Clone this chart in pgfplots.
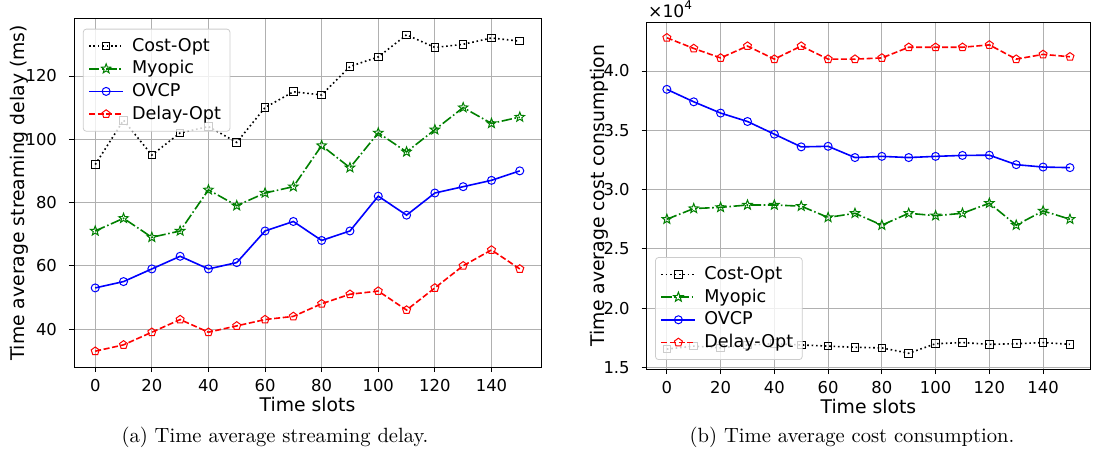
\documentclass[border=0pt]{standalone}
\usepackage{pgfplots}
\pgfplotsset{compat=1.18}
\usepackage{fontspec}
\usetikzlibrary{plotmarks}
\newfontfamily\djv{DejaVu Sans}

\definecolor{mplgreen}{rgb}{0,0.5,0}
\definecolor{gridgray}{RGB}{176,176,176}

% hollow five-point star, like matplotlib's '*'
\pgfdeclareplotmark{ostar}{%
  \pgfpathmoveto{\pgfpointpolar{90}{\pgfplotmarksize}}%
  \pgfpathlineto{\pgfpointpolar{126}{0.42\pgfplotmarksize}}%
  \pgfpathlineto{\pgfpointpolar{162}{\pgfplotmarksize}}%
  \pgfpathlineto{\pgfpointpolar{198}{0.42\pgfplotmarksize}}%
  \pgfpathlineto{\pgfpointpolar{234}{\pgfplotmarksize}}%
  \pgfpathlineto{\pgfpointpolar{270}{0.42\pgfplotmarksize}}%
  \pgfpathlineto{\pgfpointpolar{306}{\pgfplotmarksize}}%
  \pgfpathlineto{\pgfpointpolar{342}{0.42\pgfplotmarksize}}%
  \pgfpathlineto{\pgfpointpolar{18}{\pgfplotmarksize}}%
  \pgfpathlineto{\pgfpointpolar{54}{0.42\pgfplotmarksize}}%
  \pgfpathclose
  \pgfusepathqstroke
}

\pgfplotsset{
  mplstyle/.style={
    scale only axis,
    anchor=south west,
    xmin=-7.5, xmax=157.5,
    xtick={0,20,...,140},
    grid=major,
    major grid style={line width=0.4pt, draw=gridgray},
    tick align=outside,
    xtick pos=bottom, ytick pos=left,
    major tick length=2.5pt,
    tick style={black, line width=0.4pt},
    axis line style={black, line width=0.5pt},
    /pgf/number format/assume math mode=true,
    tick label style={font=\djv\fontsize{8.2}{9}\selectfont},
    yticklabel style={xshift=-2.5pt},
    label style={font=\djv\fontsize{9.4}{10}\selectfont},
    xlabel={Time slots},
    xlabel style={at={(axis description cs:0.5,-0.108)}, anchor=center},
    legend cell align=left,
    legend style={
      font=\djv\fontsize{8.8}{9}\selectfont,
      draw=black!20, fill=white, fill opacity=0.8, text opacity=1,
      rounded corners=1.5pt, inner sep=2.5pt,
      row sep=-0.8pt, column sep=2pt,
    },
  },
  costopt/.style={black, line width=0.8pt, dash pattern=on 0.8pt off 1.4pt,
    mark=square, mark size=1.9pt, mark options={solid, line width=0.5pt}},
  myopic/.style={mplgreen, line width=0.8pt, dash pattern=on 5.2pt off 1.3pt on 0.8pt off 1.3pt,
    mark=ostar, mark size=2.5pt, mark options={solid, line width=0.5pt}},
  ovcp/.style={blue, line width=0.8pt, solid,
    mark=o, mark size=2pt, mark options={solid, line width=0.5pt}},
  delayopt/.style={red, line width=0.8pt, dash pattern=on 3pt off 1.3pt,
    mark=pentagon, mark size=2.1pt, mark options={solid, line width=0.5pt}},
}

\begin{document}
\begin{tikzpicture}
\useasboundingbox (0,0) rectangle (558.5pt,225.5pt);

% (a) streaming delay
\begin{axis}[
  mplstyle,
  at={(37pt,42pt)},
  width=233.5pt, height=174pt,
  ymin=28, ymax=138,
  ytick={40,60,...,120},
  ylabel={Time average streaming delay (ms)},
  ylabel style={at={(axis description cs:-0.118,0.5)}, anchor=center},
  legend style={at={(0.019,0.972)}, anchor=north west},
]
\addplot[costopt] coordinates {
  (0,92)(10,106)(20,95)(30,102)(40,104)(50,99)(60,110)(70,115)
  (80,114)(90,123)(100,126)(110,133)(120,129)(130,130)(140,132)(150,131)
};
\addlegendentry{Cost-Opt}
\addplot[myopic] coordinates {
  (0,71)(10,75)(20,69)(30,71)(40,84)(50,79)(60,83)(70,85)
  (80,98)(90,91)(100,102)(110,96)(120,103)(130,110)(140,105)(150,107)
};
\addlegendentry{Myopic}
\addplot[ovcp] coordinates {
  (0,53)(10,55)(20,59)(30,63)(40,59)(50,61)(60,71)(70,74)
  (80,68)(90,71)(100,82)(110,76)(120,83)(130,85)(140,87)(150,90)
};
\addlegendentry{OVCP}
\addplot[delayopt] coordinates {
  (0,33)(10,35)(20,39)(30,43)(40,39)(50,41)(60,43)(70,44)
  (80,48)(90,51)(100,52)(110,46)(120,53)(130,60)(140,65)(150,59)
};
\addlegendentry{Delay-Opt}
\end{axis}

% (b) cost consumption, in units of 10^4
\begin{axis}[
  mplstyle,
  name=axb,
  at={(323.35pt,41pt)},
  width=221.7pt, height=173.5pt,
  ymin=1.487, ymax=4.413,
  ytick={1.5,2.0,...,4.0},
  yticklabel style={/pgf/number format/.cd, fixed, fixed zerofill, precision=1},
  ylabel={Time average cost consumption},
  ylabel style={at={(axis description cs:-0.106,0.5)}, anchor=center},
  legend style={at={(0.019,0.026)}, anchor=south west},
]
\addplot[costopt] coordinates {
  (0,1.655)(10,1.68)(20,1.665)(30,1.69)(40,1.70)(50,1.69)(60,1.68)(70,1.67)
  (80,1.665)(90,1.62)(100,1.70)(110,1.71)(120,1.695)(130,1.70)(140,1.71)(150,1.695)
};
\addlegendentry{Cost-Opt}
\addplot[myopic] coordinates {
  (0,2.75)(10,2.84)(20,2.85)(30,2.87)(40,2.87)(50,2.86)(60,2.765)(70,2.80)
  (80,2.70)(90,2.80)(100,2.78)(110,2.80)(120,2.885)(130,2.70)(140,2.82)(150,2.75)
};
\addlegendentry{Myopic}
\addplot[ovcp] coordinates {
  (0,3.845)(10,3.74)(20,3.645)(30,3.574)(40,3.467)(50,3.36)(60,3.365)(70,3.27)
  (80,3.28)(90,3.27)(100,3.28)(110,3.288)(120,3.29)(130,3.21)(140,3.19)(150,3.185)
};
\addlegendentry{OVCP}
\addplot[delayopt] coordinates {
  (0,4.28)(10,4.19)(20,4.11)(30,4.21)(40,4.10)(50,4.21)(60,4.10)(70,4.10)
  (80,4.11)(90,4.20)(100,4.20)(110,4.20)(120,4.22)(130,4.10)(140,4.14)(150,4.12)
};
\addlegendentry{Delay-Opt}
\end{axis}
\node[anchor=south west, inner sep=0pt, font=\djv\fontsize{8.6}{9}\selectfont]
  at ([xshift=0.5pt,yshift=2pt]axb.north west) {×10\textsuperscript{4}};

\node[font=\fontsize{10.3}{12}\selectfont] at (137.5pt,7pt) {(a) Time average streaming delay.};
\node[font=\fontsize{10.3}{12}\selectfont] at (426pt,7pt) {(b) Time average cost consumption.};
\end{tikzpicture}
\end{document}
